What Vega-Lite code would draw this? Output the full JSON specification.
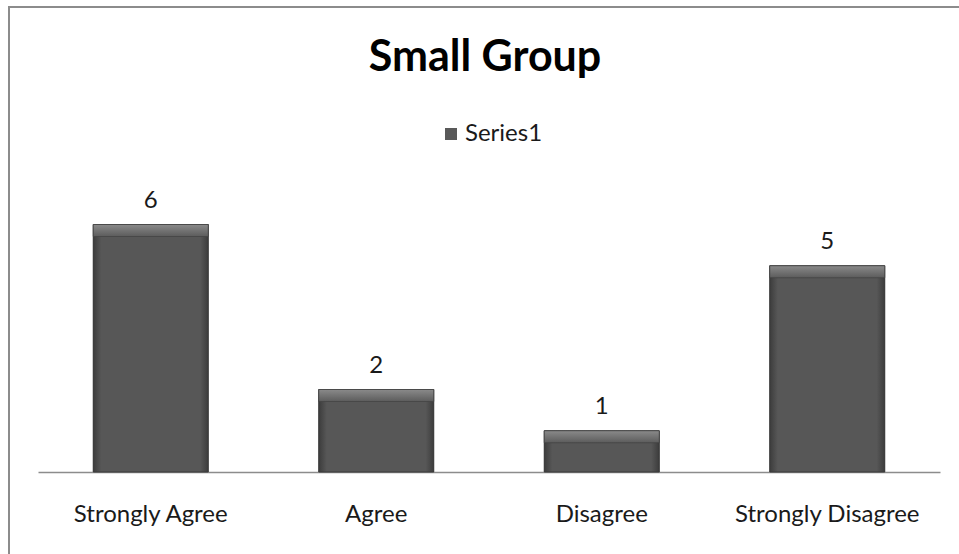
{
  "$schema": "https://vega.github.io/schema/vega-lite/v6.json",
  "autosize": "none",
  "padding": {"left": 9, "top": 7, "right": 0, "bottom": 0},
  "width": 952,
  "height": 560,
  "background": "white",
  "title": {
    "text": "Small Group",
    "font": "Lato",
    "fontSize": 43,
    "fontWeight": "bold",
    "color": "#000000",
    "anchor": "middle",
    "frame": "group",
    "baseline": "alphabetic",
    "offset": -66,
    "dy": 41
  },
  "config": {
    "view": {"stroke": "#8c8c8c", "strokeWidth": 2},
    "font": "Lato"
  },
  "data": {
    "values": [
      {"response": "Strongly Agree", "count": 6},
      {"response": "Agree", "count": 2},
      {"response": "Disagree", "count": 1},
      {"response": "Strongly Disagree", "count": 5}
    ]
  },
  "encoding": {
    "x": {
      "field": "response",
      "type": "nominal",
      "sort": null,
      "scale": {"range": [29, 931], "paddingInner": 0.49, "paddingOuter": 0.245},
      "axis": {
        "title": null,
        "orient": "bottom",
        "offset": -95,
        "labelAngle": 0,
        "labelFont": "Lato",
        "labelFontSize": 24,
        "labelColor": "#1a1a1a",
        "labelPadding": 30,
        "labelLimit": 0,
        "labelOverlap": false,
        "ticks": false,
        "domainColor": "#8c8c8c",
        "domainWidth": 1.5,
        "grid": false
      }
    },
    "y": {
      "field": "count",
      "type": "quantitative",
      "scale": {"domain": [0, 7], "range": [465, 176.25], "nice": false},
      "axis": null
    }
  },
  "layer": [
    {
      "mark": {"type": "bar"},
      "encoding": {
        "color": {
          "datum": "Series1",
          "scale": {"range": ["#595959"]},
          "legend": {
            "title": null,
            "orient": "none",
            "legendX": 430,
            "legendY": 115,
            "symbolType": "square",
            "symbolSize": 144,
            "symbolStrokeWidth": 0,
            "labelFont": "Lato",
            "labelFontSize": 24,
            "labelColor": "#1a1a1a",
            "labelOffset": 2
          }
        }
      }
    },
    {
      "mark": {
        "type": "bar",
        "stroke": "#3a3a3a",
        "strokeWidth": 1,
        "fill": {
          "gradient": "linear",
          "x1": 0, "y1": 0, "x2": 1, "y2": 0,
          "stops": [
            {"offset": 0, "color": "#3c3c3c"},
            {"offset": 0.07, "color": "#575757"},
            {"offset": 0.93, "color": "#575757"},
            {"offset": 1, "color": "#3c3c3c"}
          ]
        }
      }
    },
    {
      "mark": {
        "type": "bar",
        "y2Offset": 12,
        "fill": {
          "gradient": "linear",
          "x1": 0, "y1": 0, "x2": 0, "y2": 1,
          "stops": [
            {"offset": 0, "color": "#8a8a8a"},
            {"offset": 1, "color": "#5c5c5c"}
          ]
        },
        "stroke": "#444444",
        "strokeWidth": 0.8
      },
      "encoding": {
        "y2": {"field": "count"}
      }
    },
    {
      "mark": {
        "type": "text",
        "baseline": "bottom",
        "dy": -12,
        "font": "Lato",
        "fontSize": 24,
        "color": "#1a1a1a"
      },
      "encoding": {
        "text": {"field": "count", "type": "quantitative"}
      }
    }
  ]
}
